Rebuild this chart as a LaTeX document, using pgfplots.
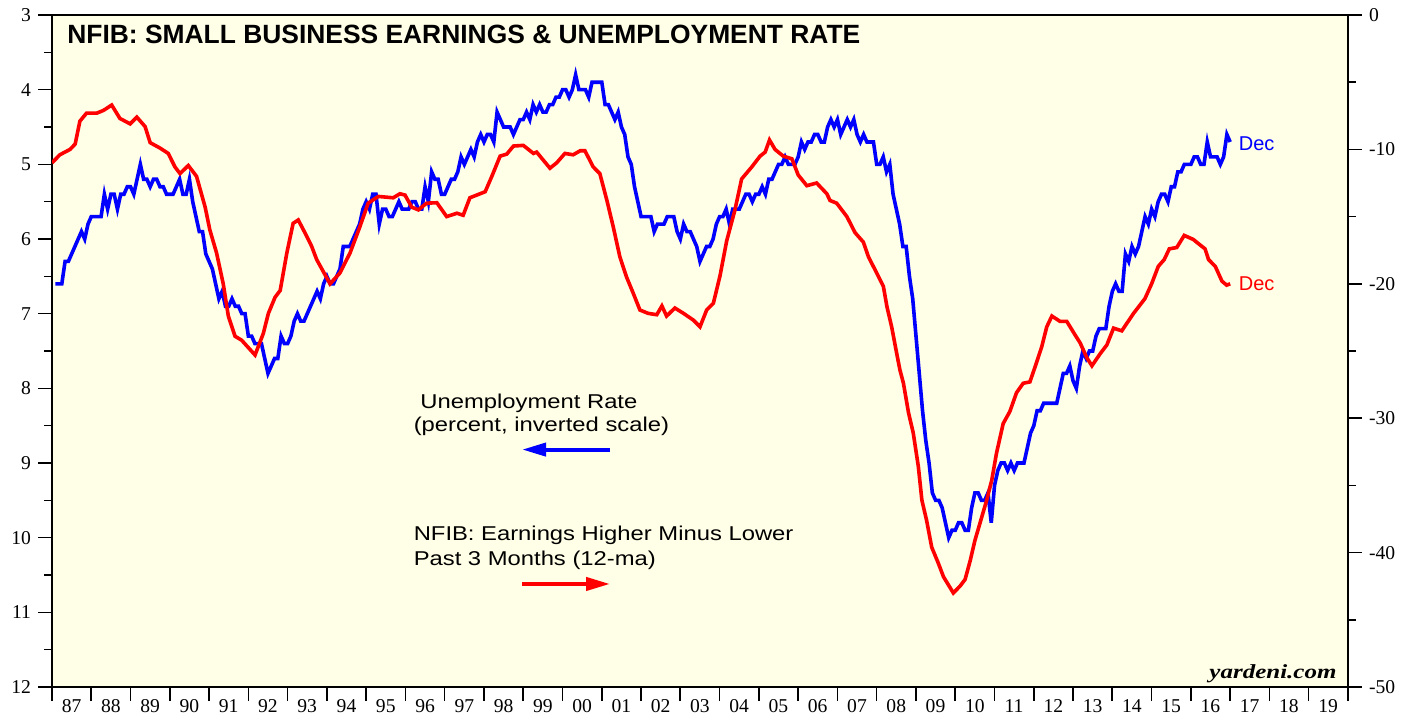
\documentclass[border=0pt]{standalone}
\usepackage{fontspec}
\setmainfont{Liberation Serif}
\newfontfamily\hv{Liberation Sans}
\usepackage{pgfplots}
\pgfplotsset{compat=1.18}
\usetikzlibrary{arrows.meta}
\definecolor{bg}{RGB}{255,254,230}
\newcommand{\tickfont}{\fontsize{9.8}{10}\selectfont}
\begin{document}
\begin{tikzpicture}
\useasboundingbox (-26pt,-16pt) rectangle (681.5pt,343.5pt);
\begin{axis}[
  at={(0pt,0pt)}, anchor=south west,
  scale only axis, width=648pt, height=336pt,
  xmin=1987, xmax=2020, ymin=3, ymax=12, y dir=reverse,
  axis background/.style={fill=bg},
  axis line style={line width=1.4pt},
  tick align=outside, tick pos=left,
  major tick length=7pt, minor tick length=4pt,
  every tick/.style={black, line width=0.8pt},
  xtick={1987,...,2020},
  xticklabels={87,88,89,90,91,92,93,94,95,96,97,98,99,00,01,02,03,04,05,06,07,08,09,10,11,12,13,14,15,16,17,18,19,{}},
  xticklabel style={xshift=9.82pt, yshift=4.5pt, font=\tickfont},
  ytick={3,...,12},
  yticklabels={3,4,5,6,7,8,9,10,11,12},
  minor ytick={3.5,4.5,...,11.5},
  yticklabel style={font=\tickfont},
]
\addplot[blue, line width=1.8pt] table[x expr={1987+(\coordindex+1)/12}, y index=0, row sep=\\, header=false] {
6.6\\6.6\\6.6\\6.3\\6.3\\6.2\\6.1\\6.0\\5.9\\6.0\\5.8\\5.7\\
5.7\\5.7\\5.7\\5.4\\5.6\\5.4\\5.4\\5.6\\5.4\\5.4\\5.3\\5.3\\
5.4\\5.2\\5.0\\5.2\\5.2\\5.3\\5.2\\5.2\\5.3\\5.3\\5.4\\5.4\\
5.4\\5.3\\5.2\\5.4\\5.4\\5.2\\5.5\\5.7\\5.9\\5.9\\6.2\\6.3\\
6.4\\6.6\\6.8\\6.7\\6.9\\6.9\\6.8\\6.9\\6.9\\7.0\\7.0\\7.3\\
7.3\\7.4\\7.4\\7.4\\7.6\\7.8\\7.7\\7.6\\7.6\\7.3\\7.4\\7.4\\
7.3\\7.1\\7.0\\7.1\\7.1\\7.0\\6.9\\6.8\\6.7\\6.8\\6.6\\6.5\\
6.6\\6.6\\6.5\\6.4\\6.1\\6.1\\6.1\\6.0\\5.9\\5.8\\5.6\\5.5\\
5.6\\5.4\\5.4\\5.8\\5.6\\5.6\\5.7\\5.7\\5.6\\5.5\\5.6\\5.6\\
5.6\\5.5\\5.5\\5.6\\5.6\\5.3\\5.5\\5.1\\5.2\\5.2\\5.4\\5.4\\
5.3\\5.2\\5.2\\5.1\\4.9\\5.0\\4.9\\4.8\\4.9\\4.7\\4.6\\4.7\\
4.6\\4.6\\4.7\\4.3\\4.4\\4.5\\4.5\\4.5\\4.6\\4.5\\4.4\\4.4\\
4.3\\4.4\\4.2\\4.3\\4.2\\4.3\\4.3\\4.2\\4.2\\4.1\\4.1\\4.0\\
4.0\\4.1\\4.0\\3.8\\4.0\\4.0\\4.0\\4.1\\3.9\\3.9\\3.9\\3.9\\
4.2\\4.2\\4.3\\4.4\\4.3\\4.5\\4.6\\4.9\\5.0\\5.3\\5.5\\5.7\\
5.7\\5.7\\5.7\\5.9\\5.8\\5.8\\5.8\\5.7\\5.7\\5.7\\5.9\\6.0\\
5.8\\5.9\\5.9\\6.0\\6.1\\6.3\\6.2\\6.1\\6.1\\6.0\\5.8\\5.7\\
5.7\\5.6\\5.8\\5.6\\5.6\\5.6\\5.5\\5.4\\5.4\\5.5\\5.4\\5.4\\
5.3\\5.4\\5.2\\5.2\\5.1\\5.0\\5.0\\4.9\\5.0\\5.0\\5.0\\4.9\\
4.7\\4.8\\4.7\\4.7\\4.6\\4.6\\4.7\\4.7\\4.5\\4.4\\4.5\\4.4\\
4.6\\4.5\\4.4\\4.5\\4.4\\4.6\\4.7\\4.6\\4.7\\4.7\\4.7\\5.0\\
5.0\\4.9\\5.1\\5.0\\5.4\\5.6\\5.8\\6.1\\6.1\\6.5\\6.8\\7.3\\
7.8\\8.3\\8.7\\9.0\\9.4\\9.5\\9.5\\9.6\\9.8\\10.0\\9.9\\9.9\\
9.8\\9.8\\9.9\\9.9\\9.6\\9.4\\9.4\\9.5\\9.5\\9.4\\9.8\\9.3\\
9.1\\9.0\\9.0\\9.1\\9.0\\9.1\\9.0\\9.0\\9.0\\8.8\\8.6\\8.5\\
8.3\\8.3\\8.2\\8.2\\8.2\\8.2\\8.2\\8.0\\7.8\\7.8\\7.7\\7.9\\
8.0\\7.7\\7.5\\7.6\\7.5\\7.5\\7.3\\7.2\\7.2\\7.2\\6.9\\6.7\\
6.6\\6.7\\6.7\\6.2\\6.3\\6.1\\6.2\\6.1\\5.9\\5.7\\5.8\\5.6\\
5.7\\5.5\\5.4\\5.4\\5.5\\5.3\\5.3\\5.1\\5.1\\5.0\\5.0\\5.0\\
4.9\\4.9\\5.0\\5.0\\4.7\\4.9\\4.9\\4.9\\5.0\\4.9\\4.6\\4.7\\
};
\node[anchor=base west, font=\hv\bfseries\fontsize{13.2}{14}\selectfont, inner sep=0pt] at (axis cs:1987.38,3.38) {NFIB: SMALL BUSINESS EARNINGS \& UNEMPLOYMENT RATE};
\node[anchor=base west, font=\hv\fontsize{10}{12}\selectfont, inner sep=0pt, xscale=1.19] at (axis cs:1996.37,8.27) {Unemployment Rate};
\node[anchor=base west, font=\hv\fontsize{10}{12}\selectfont, inner sep=0pt, xscale=1.19] at (axis cs:1996.20,8.58) {(percent, inverted scale)};
\node[anchor=base west, font=\hv\fontsize{10}{12}\selectfont, inner sep=0pt, xscale=1.19] at (axis cs:1996.20,10.04) {NFIB: Earnings Higher Minus Lower};
\node[anchor=base west, font=\hv\fontsize{10}{12}\selectfont, inner sep=0pt, xscale=1.19] at (axis cs:1996.20,10.37) {Past 3 Months (12-ma)};
\draw[blue, line width=2pt, -{Triangle[length=12pt,width=6.5pt]}] (axis cs:2001.21,8.82) -- (axis cs:1998.97,8.82);
\draw[red, line width=2pt, -{Triangle[length=12pt,width=6.5pt]}] (axis cs:1998.97,10.62) -- (axis cs:2001.21,10.62);
\node[anchor=base west, font=\hv\fontsize{10}{12}\selectfont, inner sep=0pt, text=blue] at (axis cs:2017.21,4.81) {Dec};
\node[anchor=base west, font=\hv\fontsize{10}{12}\selectfont, inner sep=0pt, text=red] at (axis cs:2017.21,6.69) {Dec};
\node[anchor=base east, font=\bfseries\itshape\fontsize{10}{12}\selectfont, inner sep=0pt, xscale=1.25] at (axis cs:2019.72,11.88) {yardeni.com};
\end{axis}
\begin{axis}[
  at={(0pt,0pt)}, anchor=south west,
  scale only axis, width=648pt, height=336pt,
  xmin=1987, xmax=2020, ymin=-50, ymax=0,
  axis y line*=right, axis x line=none,
  axis line style={line width=1.4pt},
  tick align=outside,
  major tick length=7pt, minor tick length=4pt,
  every tick/.style={black, line width=0.8pt},
  ytick={-50,-40,...,0},
  yticklabels={-50,-40,-30,-20,-10,0},
  minor ytick={-45,-35,...,-5},
  yticklabel style={font=\tickfont},
]
\addplot[red, line width=1.8pt] coordinates {
(1987.00,-11.0) (1987.20,-10.4) (1987.46,-10.0) (1987.59,-9.6) (1987.71,-7.9) (1987.88,-7.3)
(1988.14,-7.3) (1988.31,-7.1) (1988.52,-6.7) (1988.73,-7.7) (1988.99,-8.1)
(1989.16,-7.6) (1989.37,-8.3) (1989.50,-9.5) (1989.75,-9.9) (1989.96,-10.3)
(1990.13,-11.3) (1990.26,-11.8) (1990.47,-11.2) (1990.68,-12.0) (1990.90,-14.3)
(1991.02,-16.0) (1991.19,-17.7) (1991.36,-20.0) (1991.49,-22.4) (1991.66,-23.9) (1991.83,-24.2)
(1992.17,-25.3) (1992.38,-23.7) (1992.51,-22.2) (1992.68,-21.0) (1992.81,-20.5) (1992.98,-17.7)
(1993.14,-15.5) (1993.27,-15.25) (1993.44,-16.2) (1993.61,-17.2) (1993.74,-18.2)
(1994.08,-20.0) (1994.33,-19.2) (1994.59,-17.7) (1994.84,-15.75)
(1995.05,-14.0) (1995.31,-13.5) (1995.69,-13.6) (1995.86,-13.3) (1995.99,-13.4)
(1996.16,-14.3) (1996.33,-14.5) (1996.54,-14.0) (1996.80,-13.97)
(1997.05,-15.0) (1997.31,-14.75) (1997.47,-14.9) (1997.64,-13.6) (1997.90,-13.3)
(1998.03,-13.15) (1998.20,-12.0) (1998.41,-10.5) (1998.58,-10.35) (1998.75,-9.75)
(1999.00,-9.7) (1999.26,-10.3) (1999.34,-10.2) (1999.68,-11.4) (1999.85,-11.0)
(2000.06,-10.3) (2000.27,-10.4) (2000.45,-10.1) (2000.57,-10.1) (2000.78,-11.3) (2000.95,-11.8)
(2001.13,-13.8) (2001.29,-15.75) (2001.46,-18.0) (2001.63,-19.5) (2001.80,-20.7) (2001.97,-21.95)
(2002.18,-22.2) (2002.40,-22.3) (2002.53,-21.65) (2002.65,-22.4) (2002.86,-21.8)
(2003.08,-22.2) (2003.33,-22.7) (2003.50,-23.2) (2003.67,-21.95) (2003.84,-21.45)
(2004.01,-19.4) (2004.18,-16.8) (2004.39,-14.5) (2004.56,-12.2) (2004.82,-11.3)
(2005.03,-10.5) (2005.16,-10.2) (2005.27,-9.3) (2005.41,-10.0) (2005.62,-10.5) (2005.84,-10.7)
(2006.00,-11.9) (2006.22,-12.7) (2006.47,-12.5) (2006.73,-13.3) (2006.81,-13.8) (2006.98,-14.0)
(2007.24,-15.0) (2007.45,-16.2) (2007.66,-16.9) (2007.79,-18.0)
(2008.00,-19.2) (2008.17,-20.2) (2008.26,-21.7) (2008.38,-23.2) (2008.51,-25.2) (2008.59,-26.4) (2008.68,-27.4) (2008.81,-29.6) (2008.93,-31.1)
(2009.06,-33.6) (2009.15,-36.1) (2009.27,-37.6) (2009.40,-39.6) (2009.57,-40.8) (2009.70,-41.8) (2009.95,-43.0)
(2010.12,-42.5) (2010.25,-42.0) (2010.38,-40.6) (2010.50,-39.1) (2010.63,-37.8) (2010.80,-36.1) (2010.93,-34.6)
(2011.05,-32.6) (2011.22,-30.4) (2011.39,-29.5) (2011.56,-28.1) (2011.73,-27.4) (2011.90,-27.3)
(2012.03,-26.2) (2012.20,-24.7) (2012.33,-23.2) (2012.46,-22.4) (2012.67,-22.8) (2012.84,-22.8)
(2013.05,-23.8) (2013.18,-24.4) (2013.35,-25.5) (2013.48,-26.1) (2013.69,-25.2) (2013.86,-24.55)
(2014.03,-23.3) (2014.24,-23.5) (2014.54,-22.2) (2014.83,-21.1)
(2015.00,-20.0) (2015.17,-18.7) (2015.32,-18.2) (2015.45,-17.4) (2015.64,-17.3) (2015.83,-16.4)
(2016.06,-16.7) (2016.23,-17.1) (2016.36,-17.4) (2016.45,-18.2) (2016.62,-18.7) (2016.79,-19.8) (2016.91,-20.1) (2017.00,-20.0)
};
\end{axis}
\end{tikzpicture}
\end{document}
